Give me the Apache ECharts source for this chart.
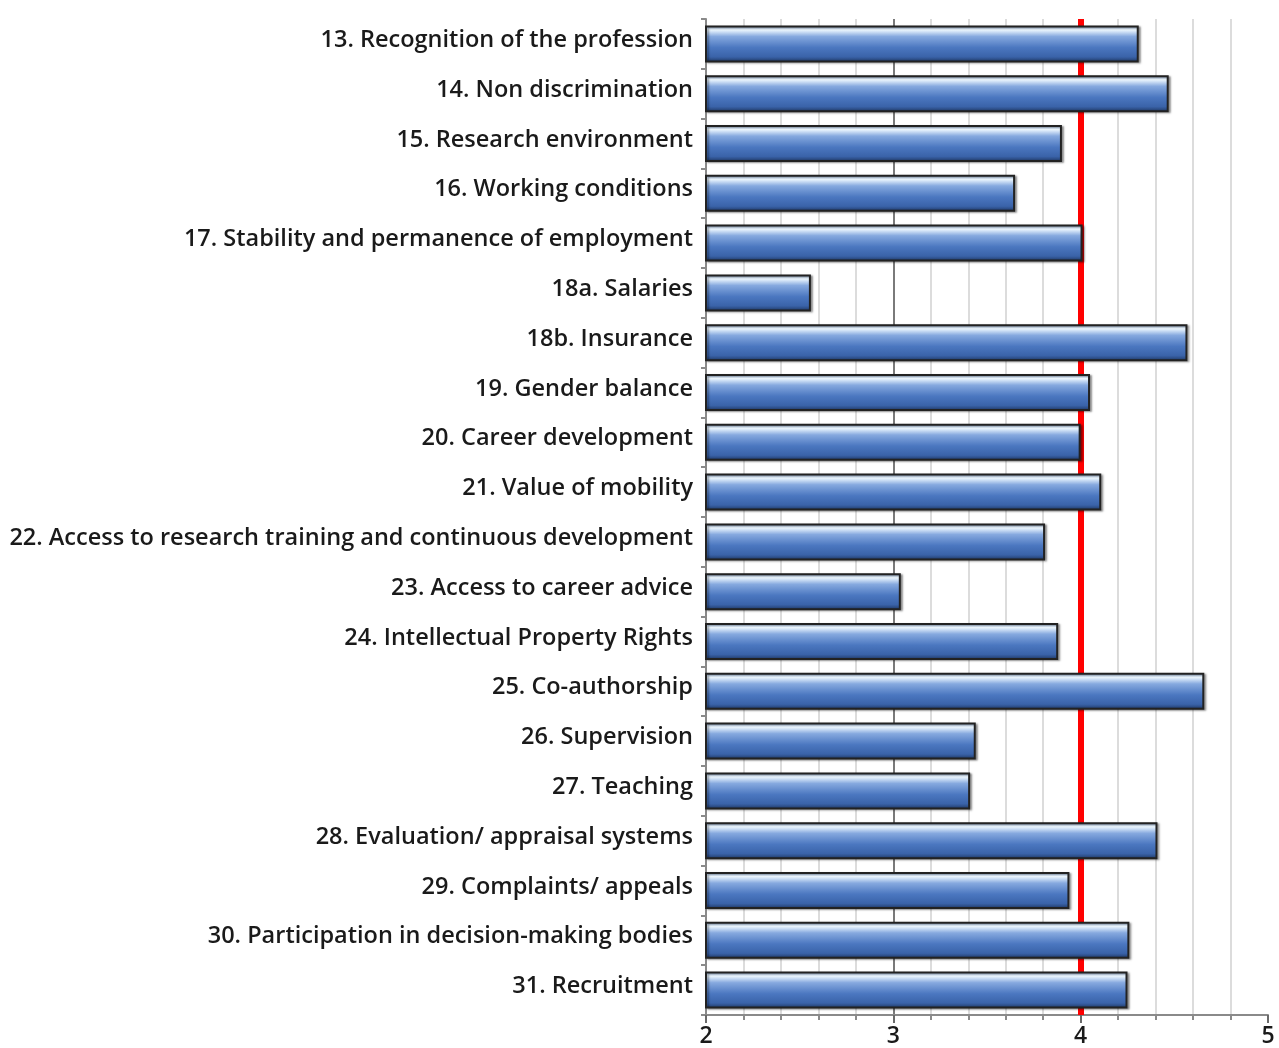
<!DOCTYPE html>
<html>
<head>
<meta charset="utf-8">
<script src="https://cdn.jsdelivr.net/npm/echarts@6/dist/echarts.min.js"></script>
<style>
  html, body { margin: 0; padding: 0; background: #fff; }
  #chart { width: 1279px; height: 1048px; }
</style>
</head>
<body>
<div id="chart"></div>
<script>
// categories (top to bottom)
const categories = [
  '13. Recognition of the profession',
  '14. Non discrimination',
  '15. Research environment',
  '16. Working conditions',
  '17. Stability and permanence of employment',
  '18a. Salaries',
  '18b. Insurance',
  '19. Gender balance',
  '20. Career development',
  '21. Value of mobility',
  '22. Access to research training and continuous development',
  '23. Access to career advice',
  '24. Intellectual Property Rights',
  '25. Co-authorship',
  '26. Supervision',
  '27. Teaching',
  '28. Evaluation/ appraisal systems',
  '29. Complaints/ appeals',
  '30. Participation in decision-making bodies',
  '31. Recruitment'
]
// mean scores
const scores = [4.31, 4.47, 3.90, 3.65, 4.01, 2.56, 4.57, 4.05, 4.00, 4.11,
  3.81, 3.04, 3.88, 4.66, 3.44, 3.41, 4.41, 3.94, 4.26, 4.25]
// reference line
const refValue = 4

const chart = echarts.init(document.getElementById('chart'))

const barFill = new echarts.graphic.LinearGradient(0, 0, 0, 1, [
  { offset: 0, color: '#9dbbe6' },
  { offset: 0.12, color: '#eef8ff' },
  { offset: 0.3, color: '#86a9df' },
  { offset: 0.6, color: '#4b77c0' },
  { offset: 0.85, color: '#3a63a9' },
  { offset: 1, color: '#1d3560' }
])

chart.setOption({
  animation: false,
  textStyle: { fontFamily: '"Open Sans", sans-serif' },
  grid: { left: 706, right: 11, top: 19, bottom: 31, containLabel: false },
  xAxis: {
    type: 'value',
    min: 2,
    max: 5,
    interval: 1,
    axisLine: { show: true, lineStyle: { color: '#8a8a8a', width: 2 } },
    axisTick: { show: true, length: 8, lineStyle: { color: '#6a6a6a', width: 2 } },
    minorTick: { show: true, splitNumber: 5, length: 5, lineStyle: { color: '#8a8a8a', width: 2 } },
    axisLabel: { fontSize: 23, fontWeight: 600, color: '#1a1a1a', margin: 10 },
    splitLine: { show: true, lineStyle: { color: ['rgba(0,0,0,0)', '#7a7a7a', 'rgba(0,0,0,0)', 'rgba(0,0,0,0)'], width: 2 } },
    minorSplitLine: { show: true, lineStyle: { color: '#dcdcdc', width: 2 } }
  },
  yAxis: {
    type: 'category',
    inverse: true,
    data: categories,
    axisLine: { show: true, lineStyle: { color: '#8a8a8a', width: 2 } },
    axisTick: { show: true, length: 5, lineStyle: { color: '#8a8a8a', width: 2 } },
    axisLabel: { fontSize: 23.5, fontWeight: 600, color: '#1a1a1a', margin: 13, verticalAlign: 'bottom', lineHeight: 7 }
  },
  series: [
    {
      type: 'line',
      data: [],
      z: 1,
      silent: true,
      markLine: {
        z: 1,
        symbol: 'none',
        silent: true,
        label: { show: false },
        lineStyle: { color: '#ff0000', width: 6, type: 'solid' },
        data: [{ xAxis: refValue }]
      }
    },
    {
      type: 'bar',
      data: scores,
      z: 3,
      barWidth: 37,
      itemStyle: {
        color: barFill,
        borderColor: '#222',
        borderWidth: 2,
        shadowColor: 'rgba(0,0,0,0.35)',
        shadowOffsetX: 2,
        shadowOffsetY: 1,
        shadowBlur: 2
      }
    }
  ]
})
</script>
</body>
</html>
